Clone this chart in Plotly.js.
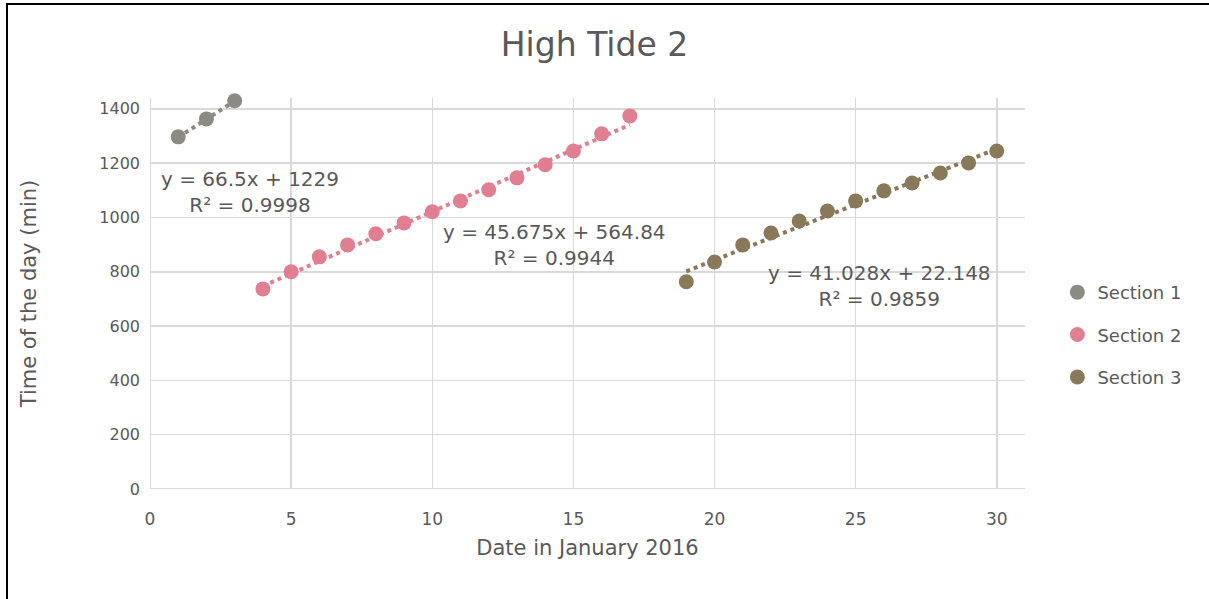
<!DOCTYPE html>
<html>
<head>
<meta charset="utf-8">
<script src="https://cdn.plot.ly/plotly-3.0.1.min.js"></script>
<style>
  html, body { margin: 0; padding: 0; background: #fff; }
  #wrap { position: relative; width: 1209px; height: 599px; overflow: hidden; }
  #chart { width: 1209px; height: 599px; }
  #frame { position: absolute; left: 6px; top: 3px; width: 1210px; height: 610px;
           border-top: 2px solid #000; border-left: 2px solid #000; pointer-events: none; }
</style>
</head>
<body>
<div id="wrap">
  <div id="chart"></div>
  <div id="frame"></div>
</div>
<script>
// ---- data ----
const sectionNames = ["Section 1", "Section 2", "Section 3"];
const sectionColors = ["#8b8b84", "#e07f91", "#8a785b"];

const days1 = [1, 2, 3];
const times1 = [1297, 1363, 1430];

const days2 = [4, 5, 6, 7, 8, 9, 10, 11, 12, 13, 14, 15, 16, 17];
const times2 = [737, 800, 855, 899, 940, 980, 1021, 1061, 1102, 1146, 1194, 1245, 1308, 1374];

const days3 = [19, 20, 21, 22, 23, 24, 25, 26, 27, 28, 29, 30];
const times3 = [763, 836, 899, 943, 987, 1024, 1061, 1098, 1127, 1164, 1201, 1245];

// trendline coefficients as displayed on the chart
const slopes = [66.5, 45.675, 41.028];
const intercepts = [1229, 564.84, 22.148];
const eqLabels = ["y = 66.5x + 1229", "y = 45.675x + 564.84", "y = 41.028x + 22.148"];
const r2Labels = ["R² = 0.9998", "R² = 0.9944", "R² = 0.9859"];
const labelX = [3.55, 14.33, 25.86];
const labelY = [1094, 899, 748];

const xTicks = [0, 5, 10, 15, 20, 25, 30];
const yTicks = [0, 200, 400, 600, 800, 1000, 1200, 1400];

// ---- build ----
const FONT = "'DejaVu Sans', sans-serif";
const TXT = "#595959";
const allDays = [days1, days2, days3];
const allTimes = [times1, times2, times3];

const traces = [];
for (let i = 0; i < 3; i++) {
  const d = allDays[i];
  const x0 = d[0], x1 = d[d.length - 1];
  traces.push({
    x: [x0, x1],
    y: [slopes[i] * x0 + intercepts[i], slopes[i] * x1 + intercepts[i]],
    mode: "lines",
    line: { color: sectionColors[i], width: 4, dash: "dot" },
    showlegend: false,
    cliponaxis: false,
    hoverinfo: "skip"
  });
}
for (let i = 0; i < 3; i++) {
  traces.push({
    x: allDays[i],
    y: allTimes[i],
    name: sectionNames[i],
    legendgroup: "g" + i,
    mode: "markers",
    cliponaxis: false,
    marker: { color: sectionColors[i], size: 15 },
    type: "scatter"
  });
}

const annotations = [];
for (let i = 0; i < 3; i++) {
  annotations.push({
    x: labelX[i], y: labelY[i], xref: "x", yref: "y",
    text: eqLabels[i] + "<br>" + r2Labels[i],
    showarrow: false,
    align: "center",
    font: { family: FONT, size: 20, color: TXT }
  });
}

const layout = {
  width: 1209, height: 599,
  margin: { l: 150, r: 184, t: 98, b: 110 },
  paper_bgcolor: "#fff",
  plot_bgcolor: "#fff",
  font: { family: FONT, color: TXT, size: 18 },
  title: {
    text: "High Tide 2",
    x: 0.508, xref: "paper", xanchor: "center",
    y: 0.925, yref: "container", yanchor: "middle",
    font: { family: FONT, size: 33, color: TXT }
  },
  xaxis: {
    range: [0, 31],
    tickvals: xTicks,
    showgrid: true, gridcolor: "#d9d9d9", gridwidth: 1.5,
    zeroline: false, showline: false,
    ticks: "", ticklen: 0,
    ticklabelstandoff: 18,
    tickfont: { family: FONT, size: 17, color: TXT },
    title: { text: "Date in January 2016", standoff: 12, font: { family: FONT, size: 21, color: TXT } }
  },
  yaxis: {
    range: [0, 1440],
    tickvals: yTicks,
    showgrid: true, gridcolor: "#d9d9d9", gridwidth: 1.5,
    zeroline: false, showline: false,
    ticks: "", ticklen: 0,
    ticklabelstandoff: 9,
    tickfont: { family: FONT, size: 16, color: TXT },
    title: { text: "Time of the day (min)", standoff: 56, font: { family: FONT, size: 21, color: TXT } }
  },
  shapes: [
    { type: "line", xref: "x", yref: "y", x0: 0, x1: 31, y0: 0, y1: 0, line: { color: "#d9d9d9", width: 2 }, layer: "below" },
    { type: "line", xref: "x", yref: "y", x0: 0, x1: 0, y0: 0, y1: 1440, line: { color: "#d9d9d9", width: 2 }, layer: "below" }
  ],
  legend: {
    x: 1.037, xanchor: "left",
    y: 0.55, yanchor: "top",
    traceorder: "grouped",
    tracegroupgap: 16,
    itemwidth: 30,
    font: { family: FONT, size: 18, color: TXT },
    bgcolor: "rgba(0,0,0,0)"
  },
  annotations: annotations
};

Plotly.newPlot("chart", traces, layout, { displayModeBar: false, staticPlot: true });
</script>
</body>
</html>
